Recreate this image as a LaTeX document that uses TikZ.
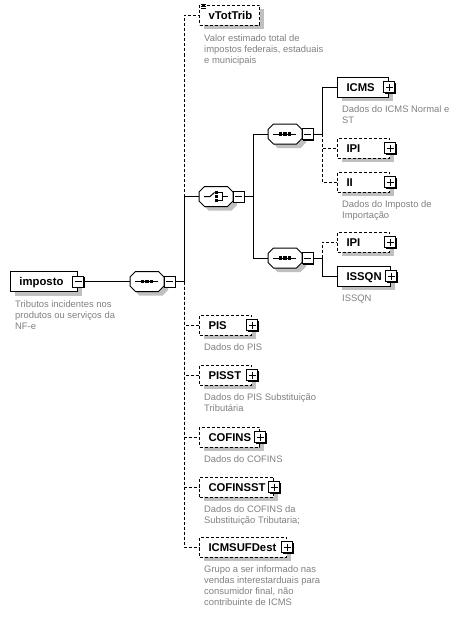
\documentclass[tikz,border=0pt]{standalone}
\usepackage{fontspec}
\setmainfont{Liberation Sans}
\usetikzlibrary{shadows}
\definecolor{shadowgray}{RGB}{192,192,192}
\definecolor{descgray}{RGB}{128,128,128}
\newcommand\xsTitle{\fontsize{11.3}{13}\selectfont\bfseries}
\newcommand\xsDesc{\fontsize{9.4}{11}\selectfont}
\newcommand\xsStrut{\rule{0pt}{8.5pt}}
\newcommand\xsOctShape{(-11.5,-10) -- (11.5,-10) -- (17,-4.5) -- (17,4.5) -- (11.5,10) -- (-11.5,10) -- (-17,4.5) -- (-17,-4.5) -- cycle}
\newcommand\xsOct[3]{%
  \node[octbox] (#1) at (#2,#3) {};
  \fill[shadowgray, shift={({#2+4},{#3+4})}] \xsOctShape;
  \draw[line width=1pt, fill=white, shift={(#2,#3)}] \xsOctShape;
}
\newcommand\xsSeq[2]{%
  \begin{scope}[shift={(#1,#2)}]
    \draw[line width=1pt] (-12.5,0) -- (11,0);
    \fill (-6,-1.6) rectangle (-2.8,1.6);
    \fill (-1.6,-1.6) rectangle (1.6,1.6);
    \fill (2.8,-1.6) rectangle (6,1.6);
  \end{scope}}
\newcommand\xsChoice[2]{%
  \begin{scope}[shift={(#1,#2)}]
    \draw[line width=1pt] (-12,0) -- (-6,0) -- (-1.5,-4);
    \fill (-1,-5.4) rectangle (1.8,-2.8);
    \fill (-1,-1.3) rectangle (1.8,1.3);
    \fill (-1,2.8) rectangle (1.8,5.4);
    \draw[line width=1pt] (1.8,-4.1) -- (6.5,-4.1) -- (6.5,4.1) -- (1.8,4.1);
    \draw[line width=1pt] (6.5,0) -- (12,0);
  \end{scope}}
\tikzset{
  conn/.style={line width=1pt, draw=black},
  opt/.style={dash pattern=on 3pt off 2pt},
  elem/.style={draw, line width=1pt, fill=white, rectangle, minimum height=20pt,
    inner ysep=0pt, inner xsep=9pt, anchor=west, font=\xsTitle,
    text height=8pt, text depth=0pt, align=left,
    copy shadow={shadow xshift=4pt, shadow yshift=-4pt, fill=shadowgray, draw=none, solid}},
  octbox/.style={rectangle, minimum width=34pt, minimum height=20pt, inner sep=0pt, draw=none},
  pmbox/.style={draw, line width=1pt, fill=white, minimum size=11pt, inner sep=0pt, solid,
    copy shadow={shadow xshift=1pt, shadow yshift=-1pt, fill=black, draw=none}},
  minus/.style={pmbox, path picture={\draw[line width=1pt] ([xshift=2pt]path picture bounding box.west) -- ([xshift=-2pt]path picture bounding box.east);}},
  plus/.style={pmbox, path picture={\draw[line width=1pt] ([xshift=2pt]path picture bounding box.west) -- ([xshift=-2pt]path picture bounding box.east);
      \draw[line width=1pt] ([yshift=-2pt]path picture bounding box.north) -- ([yshift=2pt]path picture bounding box.south);}},
  desc/.style={font=\xsDesc, text=descgray, align=left, inner sep=0pt, anchor=north west},
}
\begin{document}
\begin{tikzpicture}[x=1pt, y=-1pt]
\useasboundingbox (0,0) rectangle (463,618);
% root
\node[elem, text width=49pt] (imposto) at (10,281.5) {imposto};
\node[minus] (impostoM) at (imposto.east) {};
\node[desc] (impostoD) at ([xshift=5pt,yshift=-6.5pt]imposto.south west) {\xsStrut Tributos incidentes nos\\produtos ou serviços da\\NF-e};
% sequence 1
\xsOct{s1}{147}{281.5}
\xsSeq{147}{281.5}
\node[minus] (s1M) at ([xshift=5.5pt]s1.east) {};
\coordinate (t1) at (184,281.5);
% vTotTrib
\node[elem, opt, text width=42pt] (vTotTrib) at (199,15.5) {vTotTrib};
\draw[line width=0.8pt] (201,4.5) -- (206,4.5) (201,6.5) -- (206,6.5) (201,8.5) -- (206,8.5);
\node[desc] (vTotTribD) at ([xshift=5pt,yshift=-6.5pt]vTotTrib.south west) {\xsStrut Valor estimado total de\\impostos federais, estaduais\\e municipais};
% choice
\xsOct{ch}{216}{196.5}
\xsChoice{216}{196.5}
\node[minus] (chM) at ([xshift=5.5pt]ch.east) {};
\coordinate (t2) at (253,196.5);
% sequence 2
\xsOct{s2}{285}{134}
\xsSeq{285}{134}
\node[minus] (s2M) at ([xshift=5.5pt]s2.east) {};
\coordinate (t3) at (322,134);
\node[elem, text width=33pt] (ICMS) at (337,87) {ICMS};
\node[plus] (ICMSP) at (ICMS.east) {};
\node[desc] (ICMSD) at ([xshift=5pt,yshift=-6.5pt]ICMS.south west) {\xsStrut Dados do ICMS Normal e\\ST};
\node[elem, opt, text width=34pt] (IPIa) at (337,148) {IPI};
\node[plus] (IPIaP) at (IPIa.east) {};
\node[elem, opt, text width=34pt] (II) at (337,182) {II};
\node[plus] (IIP) at (II.east) {};
\node[desc] (IID) at ([xshift=5pt,yshift=-6.5pt]II.south west) {\xsStrut Dados do Imposto de\\Importação};
% sequence 3
\xsOct{s3}{285}{258}
\xsSeq{285}{258}
\node[minus] (s3M) at ([xshift=5.5pt]s3.east) {};
\coordinate (t4) at (322,258);
\node[elem, opt, text width=34pt] (IPIb) at (337,242) {IPI};
\node[plus] (IPIbP) at (IPIb.east) {};
\node[elem, text width=35pt] (ISSQN) at (337,276) {ISSQN};
\node[plus] (ISSQNP) at (ISSQN.east) {};
\node[desc] (ISSQND) at ([xshift=5pt,yshift=-6.5pt]ISSQN.south west) {\xsStrut ISSQN};
% lower children
\node[elem, opt, text width=34pt] (PIS) at (199,325) {PIS};
\node[plus] (PISP) at (PIS.east) {};
\node[desc] (PISD) at ([xshift=5pt,yshift=-6.5pt]PIS.south west) {\xsStrut Dados do PIS};
\node[elem, opt, text width=34pt] (PISST) at (199,375) {PISST};
\node[plus] (PISSTP) at (PISST.east) {};
\node[desc] (PISSTD) at ([xshift=5pt,yshift=-6.5pt]PISST.south west) {\xsStrut Dados do PIS Substituição\\Tributária};
\node[elem, opt, text width=42pt] (COFINS) at (199,437) {COFINS};
\node[plus] (COFINSP) at (COFINS.east) {};
\node[desc] (COFINSD) at ([xshift=5pt,yshift=-6.5pt]COFINS.south west) {\xsStrut Dados do COFINS};
\node[elem, opt, text width=56pt] (COFINSST) at (199,487) {COFINSST};
\node[plus] (COFINSSTP) at (COFINSST.east) {};
\node[desc] (COFINSSTD) at ([xshift=5pt,yshift=-6.5pt]COFINSST.south west) {\xsStrut Dados do COFINS da\\Substituição Tributaria;};
\node[elem, opt, text width=69pt] (ICMSUFDest) at (199,547) {ICMSUFDest};
\node[plus] (ICMSUFDestP) at (ICMSUFDest.east) {};
\node[desc] (ICMSUFDestD) at ([xshift=5pt,yshift=-6.5pt]ICMSUFDest.south west) {\xsStrut Grupo a ser informado nas\\vendas interestarduais para\\consumidor final, não\\contribuinte de ICMS};
% connectors
\draw[conn] (impostoM.east) -- (s1.west);
\draw[conn] (s1M.east) -- (t1);
\draw[conn, opt] (t1) |- (vTotTrib.west);
\draw[conn] (t1) |- (ch.west);
\draw[conn, opt] (t1) |- (PIS.west);
\draw[conn, opt] (t1) |- (PISST.west);
\draw[conn, opt] (t1) |- (COFINS.west);
\draw[conn, opt] (t1) |- (COFINSST.west);
\draw[conn, opt] (t1) |- (ICMSUFDest.west);
\draw[conn] (chM.east) -- (t2);
\draw[conn] (t2) |- (s2.west);
\draw[conn] (t2) |- (s3.west);
\draw[conn] (s2M.east) -- (t3);
\draw[conn] (t3) |- (ICMS.west);
\draw[conn, opt] (t3) |- (IPIa.west);
\draw[conn, opt] (t3) |- (II.west);
\draw[conn] (s3M.east) -- (t4);
\draw[conn, opt] (t4) |- (IPIb.west);
\draw[conn] (t4) |- (ISSQN.west);
\end{tikzpicture}
\end{document}
